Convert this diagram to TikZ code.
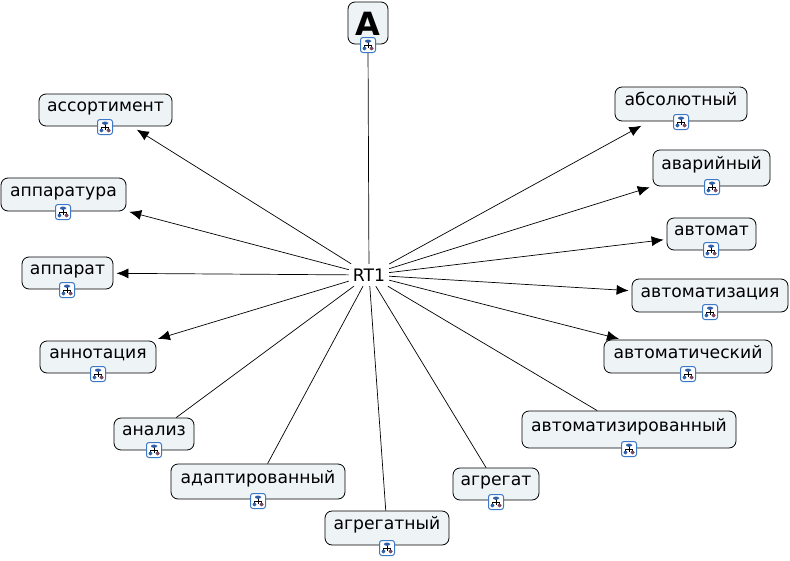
\documentclass[tikz,border=0pt]{standalone}
\usepackage{fontspec}
\setmainfont{DejaVu Sans}
\usetikzlibrary{arrows.meta}
\definecolor{boxfill}{HTML}{EEF3F6}
\definecolor{iconblue}{HTML}{3B78C8}
\definecolor{icontree}{HTML}{2F5FA8}
\definecolor{iconred}{HTML}{7A4A60}
\tikzset{
  termbox/.style={draw=black, line width=0.8pt, fill=boxfill, rounded corners=7pt, inner sep=0pt, text height=13pt, text depth=10pt, font=\fontsize{17.2}{20}\selectfont},
  iconbox/.style={draw=iconblue, line width=1pt, fill=white, rounded corners=2.5pt, minimum size=15pt, inner sep=0pt,
    path picture={
      \draw[black,line width=0.6pt] (path picture bounding box.center)+(0,-3)--+(0,3)
        +(-3.4,0)--+(3.4,0) +(-3.4,0)--+(-3.4,2) +(3.4,0)--+(3.4,2);
      \fill[icontree] (path picture bounding box.center)+(-3,-5.5) rectangle +(3,-2.2);
      \fill[icontree] (path picture bounding box.center)+(-5.5,1.5) rectangle +(-1.6,5.4);
      \fill[iconred] (path picture bounding box.center)+(1.6,1.5) rectangle +(5.5,5.4);
    }},
  plainline/.style={draw=black, line width=0.7pt},
  arrowline/.style={plainline, -{Latex[length=12pt,width=10pt]}, shorten >=3pt}
}
\begin{document}
\begin{tikzpicture}[x=1pt,y=-1pt]
\useasboundingbox (0,0) rectangle (790,560);

%%%centre
\node[inner sep=0pt, minimum width=40pt, minimum height=22pt, font=\fontsize{17.2}{20}\selectfont] (rt) at (369,275) {RT1};

%%%top
\node[termbox, minimum width=40pt, minimum height=42pt, text height=24pt, text depth=0pt, font=\fontsize{32}{34}\selectfont\bfseries] (a) at (368,23) {A};
\node[iconbox] (a-icon) at (368,45) {};

%%%left side
\node[termbox, minimum width=133pt, minimum height=32pt] (assort) at (105.5,110) {ассортимент};
\node[termbox, minimum width=125pt, minimum height=33pt] (appaty) at (63.5,194.5) {аппаратура};
\node[termbox, minimum width=91pt, minimum height=32pt] (appar) at (67.5,273) {аппарат};
\node[termbox, minimum width=116pt, minimum height=32pt] (annot) at (98,357) {аннотация};
\node[termbox, minimum width=80pt, minimum height=32pt] (analiz) at (154,434) {анализ};
\node[termbox, minimum width=174pt, minimum height=35pt] (adapt) at (258,481.5) {адаптированный};
\node[termbox, minimum width=124pt, minimum height=34pt] (agrny) at (387,528) {агрегатный};

%%%right side
\node[termbox, minimum width=86pt, minimum height=32pt] (agreg) at (496,484) {агрегат};
\node[termbox, minimum width=214pt, minimum height=37pt] (avtzd) at (629,429.5) {автоматизированный};
\node[termbox, minimum width=168pt, minimum height=33pt] (avtch) at (688,356.5) {автоматический};
\node[termbox, minimum width=156pt, minimum height=33pt] (avtcy) at (710,295.5) {автоматизация};
\node[termbox, minimum width=89pt, minimum height=32pt] (avtom) at (711.5,234) {автомат};
\node[termbox, minimum width=117pt, minimum height=36pt] (avar) at (711.5,168) {аварийный};
\node[termbox, minimum width=132pt, minimum height=34pt] (absol) at (681,104) {абсолютный};

%%%icons
\node[iconbox] (assort-icon) at (105,127) {};
\node[iconbox] (appaty-icon) at (63,212) {};
\node[iconbox] (appar-icon) at (67,290) {};
\node[iconbox] (annot-icon) at (98,374) {};
\node[iconbox] (analiz-icon) at (154,450) {};
\node[iconbox] (adapt-icon) at (258,501) {};
\node[iconbox] (agrny-icon) at (387,548) {};
\node[iconbox] (agreg-icon) at (496,502) {};
\node[iconbox] (avtzd-icon) at (629,449) {};
\node[iconbox] (avtch-icon) at (688,374) {};
\node[iconbox] (avtcy-icon) at (710,312) {};
\node[iconbox] (avtom-icon) at (711,250) {};
\node[iconbox] (avar-icon) at (712,187) {};
\node[iconbox] (absol-icon) at (681,122) {};

%%%connectors
\draw[plainline] (rt) -- (a-icon);
\draw[arrowline, shorten >=6pt] (rt) -- (assort);
\draw[arrowline] (rt) -- (appaty);
\draw[arrowline] (rt) -- (appar);
\draw[arrowline, shorten >=6pt] (rt) -- (annot);
\draw[plainline] (rt) -- (analiz);
\draw[plainline] (rt) -- (adapt);
\draw[plainline] (rt) -- (agrny);
\draw[plainline] (rt) -- (agreg);
\draw[plainline] (rt) -- (avtzd);
\draw[arrowline] (rt) -- (avtch);
\draw[arrowline] (rt) -- (avtcy);
\draw[arrowline] (rt) -- (avtom);
\draw[arrowline] (rt) -- (avar);
\draw[arrowline, shorten >=9pt] (rt) -- (absol);

\end{tikzpicture}
\end{document}
